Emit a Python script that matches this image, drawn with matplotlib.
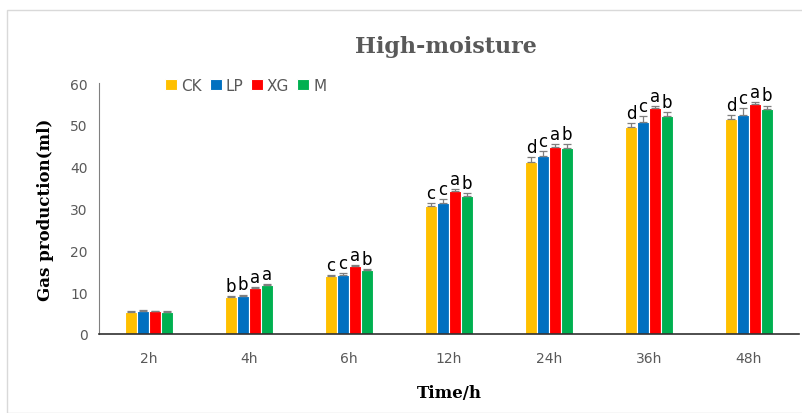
import numpy as np
import matplotlib.pyplot as plt
from matplotlib.patches import Rectangle

times = ['2h', '4h', '6h', '12h', '24h', '36h', '48h']
groups = ['CK', 'LP', 'XG', 'M']
colors = ['#FFC000', '#0070C0', '#FF0000', '#00B050']

ck = [5.3, 8.9, 13.8, 30.7, 41.2, 49.4, 51.4]
lp = [5.6, 9.2, 14.1, 31.3, 42.5, 50.6, 52.4]
xg = [5.4, 11.1, 16.3, 34.3, 44.8, 54.0, 55.0]
m = [5.3, 11.6, 15.2, 33.0, 44.4, 52.0, 53.8]

ck_err = [0.2, 0.2, 0.3, 0.6, 1.0, 1.0, 1.0]
lp_err = [0.2, 0.2, 0.5, 1.0, 1.2, 1.4, 1.6]
xg_err = [0.2, 0.1, 0.2, 0.4, 0.5, 0.4, 0.5]
m_err = [0.2, 0.3, 0.3, 0.6, 0.9, 1.0, 0.8]

letters_ck = ['', 'b', 'c', 'c', 'd', 'd', 'd']
letters_lp = ['', 'b', 'c', 'c', 'c', 'c', 'c']
letters_xg = ['', 'a', 'a', 'a', 'a', 'a', 'a']
letters_m = ['', 'a', 'b', 'b', 'b', 'b', 'b']

vals = [ck, lp, xg, m]
errs = [ck_err, lp_err, xg_err, m_err]
lets = [letters_ck, letters_lp, letters_xg, letters_m]

fig = plt.figure(figsize=(8.03, 4.14), dpi=100)
fig.patches.append(Rectangle((7/803, 0.0), 1.0, 1 - 11/414, transform=fig.transFigure,
                             fill=False, edgecolor='#d9d9d9', linewidth=1))
ax = fig.add_axes([99/803, 1 - 335/414, 700/803, 251/414])

x = np.arange(len(times))
w = 0.12
for i, (v, e, l) in enumerate(zip(vals, errs, lets)):
    pos = x + (i - 1.5) * w
    ax.bar(pos, v, width=w, color=colors[i], edgecolor='white', linewidth=0.8,
           label=groups[i], zorder=2)
    ax.errorbar(pos, v, yerr=[np.zeros(len(v)), e], fmt='none', ecolor='#7f7f7f',
                elinewidth=0.9, capsize=3, capthick=0.9, zorder=3)
    for xi, yi, ei, li in zip(pos, v, e, l):
        ax.text(xi, yi + ei + 0.3, li, ha='center', va='bottom', fontsize=12,
                family='DejaVu Sans', color='black')

ax.set_xlim(-0.5, 6.5)
ax.set_ylim(0, 60)
ax.set_xticks(x)
ax.set_xticklabels(times)
ax.set_yticks(range(0, 61, 10))
ax.tick_params(axis='both', length=0, labelsize=10, labelcolor='#595959', pad=8)
ax.tick_params(axis='x', pad=12)
for s in ['top', 'right']:
    ax.spines[s].set_visible(False)
ax.spines['left'].set_color('#808080')
ax.spines['bottom'].set_color('#303030')
ax.spines['bottom'].set_linewidth(1.2)

ax.set_ylabel('Gas production(ml)', family='DejaVu Serif', fontweight='bold',
              fontsize=12, labelpad=12)
ax.set_xlabel('Time/h', family='DejaVu Serif', fontweight='bold', fontsize=12,
              labelpad=14)
fig.text(446/803, 1 - 47/414, 'High-moisture', ha='center', va='center',
         family='DejaVu Serif', fontweight='bold', fontsize=16, color='#595959')

ax.legend(loc='upper left', bbox_to_anchor=(0.075, 1.075), ncol=4, frameon=False,
          fontsize=11, handlelength=0.8, handleheight=0.8, handletextpad=0.25,
          columnspacing=0.5, labelcolor='#595959')

fig.savefig('out.png', dpi=100)
